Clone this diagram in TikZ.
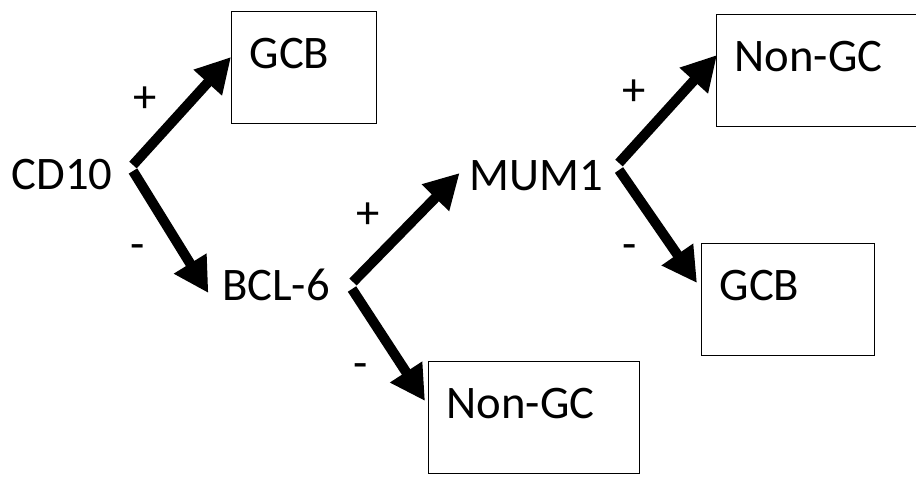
\documentclass[tikz,border=0pt]{standalone}
\usepackage{fontspec}
\setmainfont{Carlito}
\usetikzlibrary{positioning,arrows.meta,calc}

\begin{document}
\begin{tikzpicture}[x=0.75pt, y=-0.75pt,
    every node/.style={font=\fontsize{35}{42}\selectfont},
    marker/.style={anchor=base},
    sign/.style={anchor=base},
    box/.style={draw, line width=1pt, anchor=north west, align=left,
        inner xsep=13.5pt, inner ysep=0pt, text height=42.75pt, text depth=41.25pt},
    arrow/.style={-{Triangle[length=26pt, width=27pt]}, line width=7.5pt}]
    \useasboundingbox (0,0) rectangle (916,476);

    % Markers
    \node[marker] (cd10) at (62,189) {CD10};
    \node[marker] (bcl6) at (276,300) {BCL-6};
    \node[marker] (mum1) at (536,190) {MUM1};

    % Outcomes
    \node[box, text width=81.75pt] (gcbA) at (231,11) {GCB};
    \node[box, text width=138pt] (nongcA) at (716,14) {Non-GC};
    \node[box, text width=102.75pt] (gcbB) at (701,243) {GCB};
    \node[box, text width=131.25pt] (nongcB) at (428,361) {Non-GC};

    % Signs on the branches
    \node[sign] (plusA) at (145,112) {+};
    \node[sign] (minusA) at (138,259) {-};
    \node[sign] (plusB) at (368,228) {+};
    \node[sign] (minusB) at (361,378) {-};
    \node[sign] (plusC) at (634,105) {+};
    \node[sign] (minusC) at (630,259) {-};

    % Branch points
    \coordinate (cd10up) at (133,165);
    \coordinate (cd10dn) at (133,171);
    \coordinate (bcl6up) at (353,282);
    \coordinate (bcl6dn) at (352,289);
    \coordinate (mum1up) at (619,163);
    \coordinate (mum1dn) at (619,170);

    % Branches
    \draw[arrow] (cd10up) -- ($(gcbA.north west)+(0,46)$);
    \draw[arrow] (cd10dn) -- ($(bcl6.base west)+(-9,-7)$);
    \draw[arrow] (bcl6up) -- ($(mum1.base west)+(-5,-17)$);
    \draw[arrow] (bcl6dn) -- ($(nongcB.north west)+(-3,40)$);
    \draw[arrow] (mum1up) -- ($(nongcA.north west)+(1,41)$);
    \draw[arrow] (mum1dn) -- ($(gcbB.north west)+(-4,40)$);
\end{tikzpicture}
\end{document}
